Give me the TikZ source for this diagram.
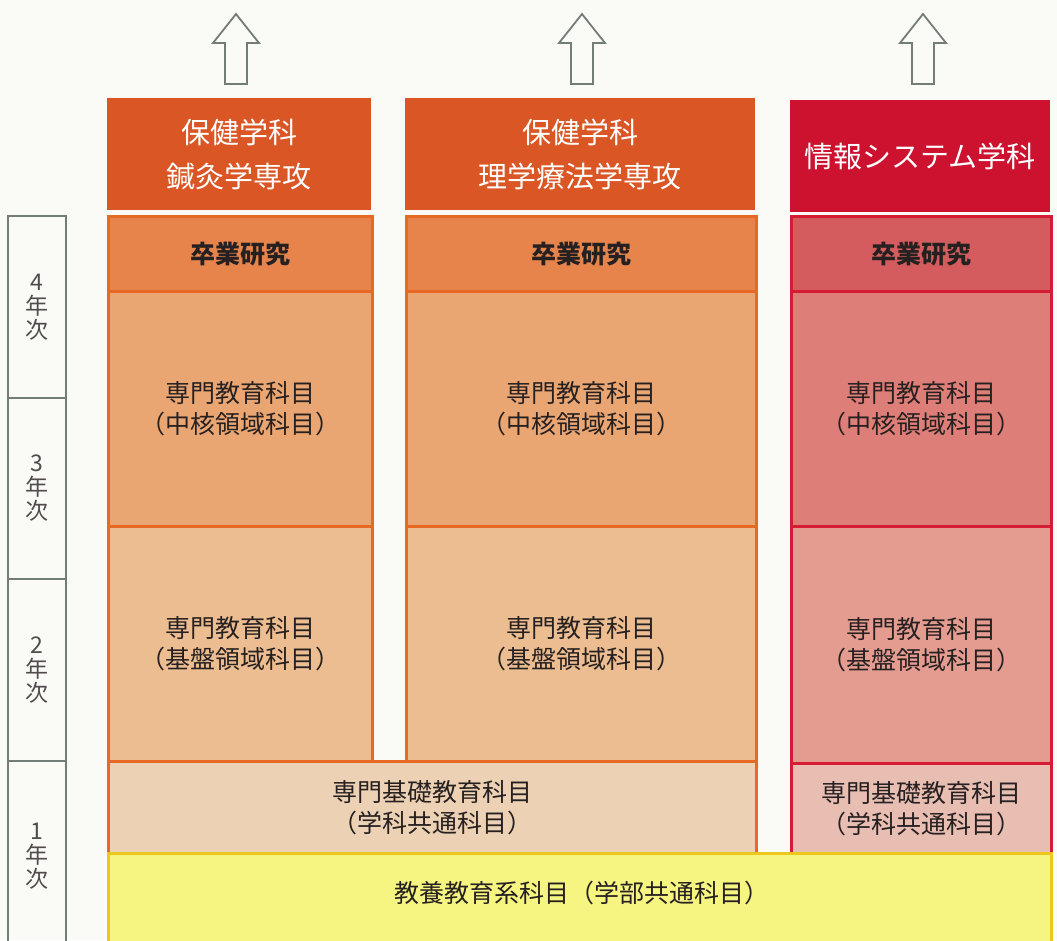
\documentclass[tikz,border=0pt]{standalone}
\usepackage{fontspec}
\newfontfamily\jp{Noto Sans CJK JP}
\definecolor{bgc}{RGB}{250,250,247}
\definecolor{hdrO}{RGB}{218,86,36}
\definecolor{hdrR}{RGB}{205,18,48}
\definecolor{bordO}{RGB}{232,105,35}
\definecolor{bordR}{RGB}{212,28,52}
\definecolor{oA}{RGB}{230,132,75}
\definecolor{oB}{RGB}{234,166,114}
\definecolor{oC}{RGB}{236,189,144}
\definecolor{oD}{RGB}{236,209,180}
\definecolor{rA}{RGB}{212,92,94}
\definecolor{rB}{RGB}{222,126,120}
\definecolor{rC}{RGB}{228,156,144}
\definecolor{rD}{RGB}{232,189,178}
\definecolor{yel}{RGB}{246,245,130}
\definecolor{yelB}{RGB}{236,200,30}
\definecolor{txt}{RGB}{38,32,32}
\definecolor{grayline}{RGB}{115,125,120}
\tikzset{
  box/.style={draw, line width=2.5pt, anchor=north west, inner sep=0pt, align=center, text=txt,
    font=\jp\fontsize{25}{31}\selectfont},
  obox/.style={box, draw=bordO},
  rbox/.style={box, draw=bordR},
  boldtxt/.style={font=\jp\bfseries\fontsize{25}{31}\selectfont},
  hdr/.style={anchor=north west, inner sep=0pt, align=center, text=white,
    font=\jp\fontsize{29}{44}\selectfont},
  yearbox/.style={draw=grayline, line width=2pt, anchor=north west, inner sep=0pt, align=center,
    text=txt!80, font=\jp\fontsize{23}{24}\selectfont, minimum width=58pt},
  uparrow/.style={draw=grayline, line width=1.8pt, fill=bgc, line join=miter},
}
\begin{document}
\begin{tikzpicture}[x=1pt,y=-1pt]
\useasboundingbox (0,0) rectangle (1057,940);
\clip (0,0) rectangle (1057,940);
\fill[bgc] (0,0) rectangle (1057,940);
% arrows
\foreach \ax in {236,582,923}{
  \draw[uparrow] (\ax-23,43) -- (\ax,14) -- (\ax+23,43) -- (\ax+11,43) -- (\ax+11,84) -- (\ax-11,84) -- (\ax-11,43) -- cycle;
}
% headers
\node[hdr, fill=hdrO, minimum width=264pt, minimum height=112pt] (h1) at (107,98) {保健学科\\鍼灸学専攻};
\node[hdr, fill=hdrO, minimum width=350pt, minimum height=112pt] (h2) at (405,98) {保健学科\\理学療法学専攻};
\node[hdr, fill=hdrR, minimum width=260pt, minimum height=112pt] (h3) at (790,100) {情報システム学科};
% column 1
\node[obox, fill=oA, minimum width=264pt, minimum height=75pt, boldtxt] (a1) at (107,215) {卒業研究};
\node[obox, fill=oB, minimum width=264pt, minimum height=235pt] (b1) at (107,290) {専門教育科目\\（中核領域科目）};
\node[obox, fill=oC, minimum width=264pt, minimum height=235pt] (c1) at (107,525) {専門教育科目\\（基盤領域科目）};
% column 2
\node[obox, fill=oA, minimum width=350pt, minimum height=75pt, boldtxt] (a2) at (405,215) {卒業研究};
\node[obox, fill=oB, minimum width=350pt, minimum height=235pt] (b2) at (405,290) {専門教育科目\\（中核領域科目）};
\node[obox, fill=oC, minimum width=350pt, minimum height=235pt] (c2) at (405,525) {専門教育科目\\（基盤領域科目）};
\node[obox, fill=oD, minimum width=648pt, minimum height=92pt] (d12) at (107,760) {専門基礎教育科目\\（学科共通科目）};
% column 3
\node[rbox, fill=rA, minimum width=260pt, minimum height=75pt, boldtxt] (a3) at (790,215) {卒業研究};
\node[rbox, fill=rB, minimum width=260pt, minimum height=235pt] (b3) at (790,290) {専門教育科目\\（中核領域科目）};
\node[rbox, fill=rC, minimum width=260pt, minimum height=237pt] (c3) at (790,525) {専門教育科目\\（基盤領域科目）};
\node[rbox, fill=rD, minimum width=260pt, minimum height=90pt] (d3) at (790,762) {専門基礎教育科目\\（学科共通科目）};
% common
\node[box, draw=yelB, fill=yel, minimum width=943pt, minimum height=110pt, anchor=north west] (e) at (107,852) {};
\node[text=txt, font=\jp\fontsize{25}{31}\selectfont, inner sep=0pt] (et) at (582,893) {教養教育系科目（学部共通科目）};
% years
\node[yearbox, minimum height=182pt] (y4) at (7,215) {4\\年\\次};
\node[yearbox, minimum height=181pt] (y3) at (7,397) {3\\年\\次};
\node[yearbox, minimum height=182pt] (y2) at (7,578) {2\\年\\次};
\node[yearbox, minimum height=190pt] (y1) at (7,760) {1\\年\\次};
\end{tikzpicture}
\end{document}
